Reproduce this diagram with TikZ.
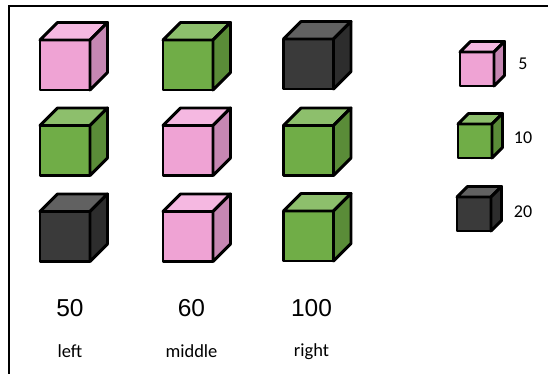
\documentclass[tikz,border=0pt]{standalone}
\usepackage{fontspec}
\setmainfont{Carlito}
\newfontfamily\numfont{Liberation Sans}
\usetikzlibrary{positioning}

\definecolor{pinkfront}{HTML}{EFA3D4}
\definecolor{pinktop}{HTML}{F5B8E1}
\definecolor{pinkside}{HTML}{C687B3}
\definecolor{greenfront}{HTML}{70AD47}
\definecolor{greentop}{HTML}{8DBF6C}
\definecolor{greenside}{HTML}{5A8C38}
\definecolor{darkfront}{HTML}{3A3A3A}
\definecolor{darktop}{HTML}{616161}
\definecolor{darkside}{HTML}{2D2D2D}

\tikzset{
  face/.style={
    rectangle, draw, line width=2.9pt, line join=round,
    inner sep=0pt, outer sep=0pt, minimum size=#1
  },
  edge/.style={draw, line width=2.9pt, line join=round},
  bignum/.style={font=\numfont\fontsize{24.5}{28}\selectfont},
  poslabel/.style={font=\fontsize{18.5}{21}\selectfont},
  keylabel/.style={font=\fontsize{18}{21}\selectfont},
  frame/.style={draw, line width=1.3pt}
}

% name, centre, colour, size, depth
\newcommand{\drawcube}[5]{%
  \node[face=#4, fill=#3front] (#1) at (#2) {};
  \filldraw[edge, fill=#3top] (#1.north west) -- ++(#5,#5) -- ++(#4,0)
    -- (#1.north east) -- cycle;
  \filldraw[edge, fill=#3side] (#1.north east) -- ++(#5,#5) -- ++(0,-#4)
    -- (#1.south east) -- cycle;
}

\begin{document}
\begin{tikzpicture}[x=1pt, y=1pt]
\useasboundingbox (0,0) rectangle (548,374);

% Frame
\draw[frame] (9,0) |- (548,368);

% Left column
\drawcube{l1}{65,309}{pink}{50}{17.5}
\drawcube{l2}{65,223.5}{green}{50}{17.5}
\drawcube{l3}{65,137.5}{dark}{50}{17.5}

% Middle column
\drawcube{m1}{188,309}{green}{50}{17.5}
\drawcube{m2}{188,223.5}{pink}{50}{17.5}
\drawcube{m3}{188,137.5}{pink}{50}{17.5}

% Right column
\drawcube{r1}{308.5,310}{dark}{50}{17.5}
\drawcube{r2}{308.5,223.5}{green}{50}{17.5}
\drawcube{r3}{308.5,138}{green}{50}{17.5}

% Totals and positions
\node[bignum] (sum50) at (70,66) {50};
\node[bignum] (sum60) at (191.5,66) {60};
\node[bignum] (sum100) at (311.5,66) {100};
\node[poslabel] (left) at (70,22.5) {left};
\node[poslabel] (middle) at (191.5,22.5) {middle};
\node[poslabel] (right) at (311.5,22.5) {right};

% Key
\drawcube{k5}{477,305}{pink}{34}{10.5}
\drawcube{k10}{475,233}{green}{34}{10.5}
\drawcube{k20}{474,160}{dark}{34}{10.5}
\node[keylabel] (v5) at (523,310) {5};
\node[keylabel] (v10) at (523,236.5) {10};
\node[keylabel] (v20) at (523,162.5) {20};

\end{tikzpicture}
\end{document}
